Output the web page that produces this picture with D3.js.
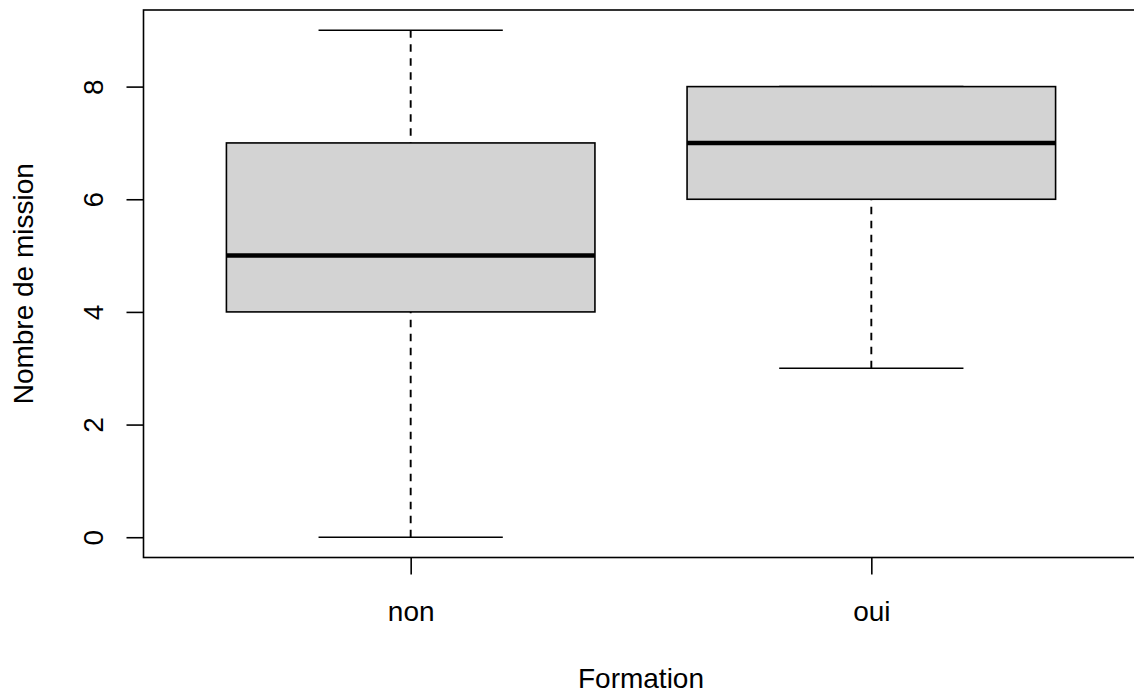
<!DOCTYPE html>
<html>
<head>
<meta charset="utf-8">
<script src="https://cdn.jsdelivr.net/npm/d3@7"></script>
<style>
  html, body { margin: 0; padding: 0; background: #fff; }
  svg { display: block; }
  text { font-family: "Liberation Sans", Arial, sans-serif; fill: #000; }
</style>
</head>
<body>
<div id="chart"></div>
<script>
// Five-number summaries per group
const categories = ["non", "oui"];
const whiskerLow = [0, 3];
const quartile1 = [4, 6];
const medians = [5, 7];
const quartile3 = [7, 8];
const whiskerHigh = [9, 8];
const yTicks = [0, 2, 4, 6, 8];
const xTitle = "Formation";
const yTitle = "Nombre de mission";

const W = 1134, H = 694;
const plot = { left: 143.5, right: 1138.5, top: 10, bottom: 557.5 };

const svg = d3.select("#chart").append("svg")
  .attr("width", W).attr("height", H);

// Category positions 1..n, padded like a base-graphics boxplot
const n = categories.length;
const xPad = n * 0.04;
const x = d3.scaleLinear()
  .domain([0.5 - xPad, n + 0.5 + xPad])
  .range([plot.left, plot.right]);

const yMin = d3.min(whiskerLow), yMax = d3.max(whiskerHigh);
const yPad = (yMax - yMin) * 0.04;
const y = d3.scaleLinear()
  .domain([yMin - yPad, yMax + yPad])
  .range([plot.bottom, plot.top]);

const boxWidth = 0.8;
const lw = 1.6;

const data = categories.map((c, i) => ({
  cat: c, pos: i + 1,
  lo: whiskerLow[i], q1: quartile1[i], med: medians[i],
  q3: quartile3[i], hi: whiskerHigh[i]
}));

const g = svg.append("g");
const boxes = g.selectAll("g.box").data(data).join("g").attr("class", "box");

// Whiskers (dashed), drawn from the whisker end toward the box
[["hi", "q3"], ["lo", "q1"]].forEach(([from, to]) => {
  boxes.append("line")
    .attr("x1", d => x(d.pos)).attr("x2", d => x(d.pos))
    .attr("y1", d => y(d[from])).attr("y2", d => y(d[to]))
    .attr("stroke", "#000").attr("stroke-width", 1.9)
    .attr("stroke-dasharray", "7.5,6.5");
});

// Staples
["hi", "lo"].forEach(k => {
  boxes.append("line")
    .attr("x1", d => x(d.pos - boxWidth / 4)).attr("x2", d => x(d.pos + boxWidth / 4))
    .attr("y1", d => y(d[k])).attr("y2", d => y(d[k]))
    .attr("stroke", "#000").attr("stroke-width", lw);
});

// Boxes
boxes.append("rect")
  .attr("x", d => x(d.pos - boxWidth / 2))
  .attr("width", d => x(d.pos + boxWidth / 2) - x(d.pos - boxWidth / 2))
  .attr("y", d => y(d.q3))
  .attr("height", d => y(d.q1) - y(d.q3))
  .attr("fill", "#d3d3d3").attr("stroke", "#000").attr("stroke-width", lw);

// Medians
boxes.append("line")
  .attr("x1", d => x(d.pos - boxWidth / 2)).attr("x2", d => x(d.pos + boxWidth / 2))
  .attr("y1", d => y(d.med)).attr("y2", d => y(d.med))
  .attr("stroke", "#000").attr("stroke-width", 4.5);

// Plot frame
svg.append("rect")
  .attr("x", plot.left).attr("y", plot.top)
  .attr("width", plot.right - plot.left).attr("height", plot.bottom - plot.top)
  .attr("fill", "none").attr("stroke", "#000").attr("stroke-width", lw);

// Y axis
const yAxis = svg.append("g")
  .attr("transform", `translate(${plot.left},0)`)
  .call(d3.axisLeft(y).tickValues(yTicks).tickSize(17).tickFormat(d3.format("d")));
yAxis.select(".domain").remove();
yAxis.selectAll(".tick line").attr("stroke", "#000").attr("stroke-width", lw);
yAxis.selectAll(".tick text")
  .attr("x", 0).attr("y", 0).attr("dy", null)
  .attr("transform", `translate(-40.5,0) rotate(-90)`)
  .attr("text-anchor", "middle")
  .style("font-size", "28px");

// X axis
const xAxis = svg.append("g")
  .attr("transform", `translate(0,${plot.bottom})`)
  .call(d3.axisBottom(x).tickValues(data.map(d => d.pos)).tickSize(17)
    .tickFormat(v => categories[v - 1]));
xAxis.select(".domain").remove();
xAxis.selectAll(".tick line").attr("stroke", "#000").attr("stroke-width", lw);
xAxis.selectAll(".tick text")
  .attr("y", 63.5).attr("dy", null)
  .style("font-size", "28px");

// Axis titles
svg.append("text")
  .attr("x", x((n + 1) / 2)).attr("y", 687.5)
  .attr("text-anchor", "middle")
  .style("font-size", "28px")
  .text(xTitle);

svg.append("text")
  .attr("transform", `translate(33,${(plot.top + plot.bottom) / 2}) rotate(-90)`)
  .attr("text-anchor", "middle")
  .style("font-size", "28px")
  .text(yTitle);
</script>
</body>
</html>
